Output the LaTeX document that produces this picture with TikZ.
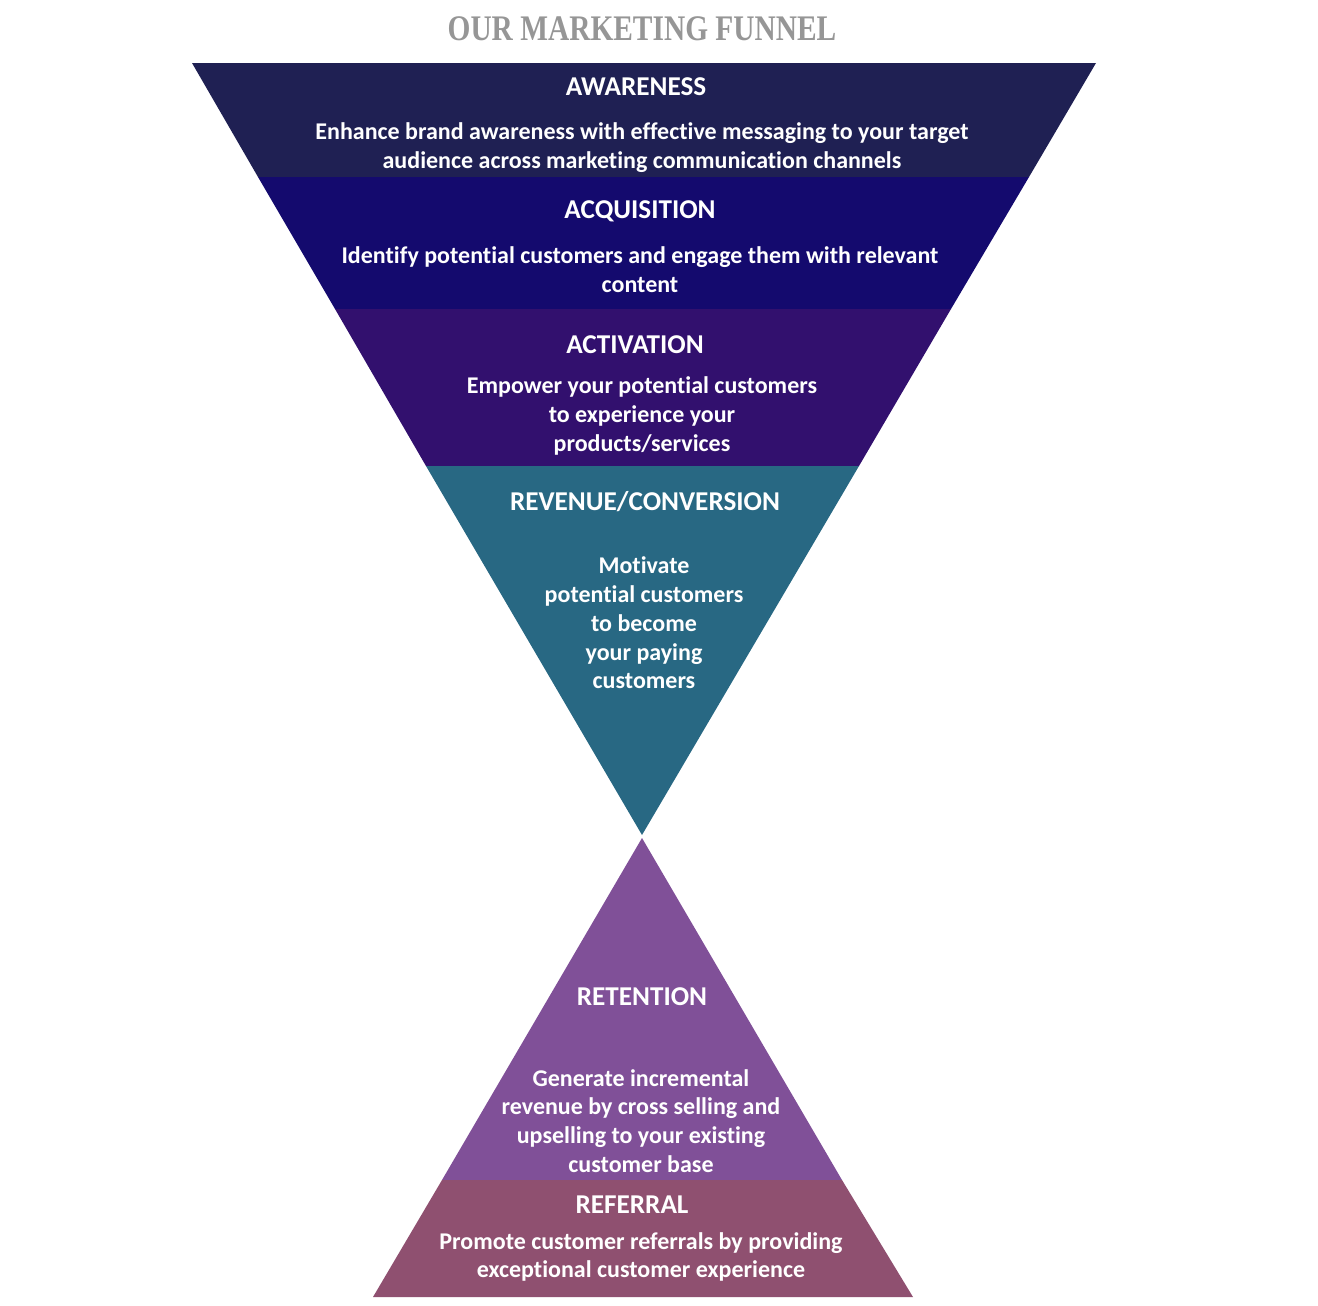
\documentclass[tikz,border=0pt]{standalone}
\usepackage{fontspec}
\setmainfont{Carlito}[Ligatures=NoCommon]
\newfontfamily\titlefont{Liberation Serif}
\usepackage{tikz}

\definecolor{awarecol}{RGB}{31,32,83}
\definecolor{acqcol}{RGB}{20,10,110}
\definecolor{actcol}{RGB}{50,16,110}
\definecolor{revcol}{RGB}{40,104,131}
\definecolor{retcol}{RGB}{128,80,152}
\definecolor{refcol}{RGB}{143,80,112}
\definecolor{titlegray}{RGB}{150,150,150}

\tikzset{
  head/.style={text=white, font=\bfseries\fontsize{13.6}{16}\selectfont},
  body/.style={text=white, align=center, font=\bfseries\fontsize{12}{14.4}\selectfont}
}

\begin{document}
\begin{tikzpicture}[x=0.5pt,y=-0.5pt]
    \useasboundingbox (0,0) rectangle (1318,1306);

    % funnel
    \fill[awarecol] (192,63) -- (1096,63) -- (1029,177) -- (258,177) -- cycle;
    \fill[acqcol] (258,177) -- (1029,177) -- (951,309) -- (335,309) -- cycle;
    \fill[actcol] (335,309) -- (951,309) -- (859,466) -- (426,466) -- cycle;
    \fill[revcol] (426,466) -- (859,466) -- (642,835) -- cycle;

    % pyramid
    \fill[retcol] (642,838) -- (842,1180) -- (442,1180) -- cycle;
    \fill[refcol] (442,1180) -- (842,1180) -- (913,1297) -- (373,1297) -- cycle;

    \node[text=titlegray, font=\titlefont\bfseries\fontsize{15}{18}\selectfont] (title) at (642,29) {\scalebox{0.98}[1.2]{OUR MARKETING FUNNEL}};

    \node[head] (aware) at (636,87) {AWARENESS};
    \node[body] (awaretxt) at (642,148) {Enhance brand awareness with effective messaging to your target\\audience across marketing communication channels};

    \node[head] (acq) at (640,211) {ACQUISITION};
    \node[body] (acqtxt) at (640,270) {Identify potential customers and engage them with relevant\\content};

    \node[head] (act) at (635,345) {ACTIVATION};
    \node[body] (acttxt) at (642,416) {Empower your potential customers\\to experience your\\products/services};

    \node[head] (rev) at (645,502) {REVENUE/CONVERSION};
    \node[body] (revtxt) at (644,623) {Motivate\\potential customers\\to become\\your paying\\customers};

    \node[head] (ret) at (642,997) {RETENTION};
    \node[body] (rettxt) at (641,1121) {Generate incremental\\revenue by cross selling and\\upselling to your existing\\customer base};

    \node[head] (ref) at (632,1205) {REFERRAL};
    \node[body] (reftxt) at (641,1257) {Promote customer referrals by providing\\exceptional customer experience};
\end{tikzpicture}
\end{document}
